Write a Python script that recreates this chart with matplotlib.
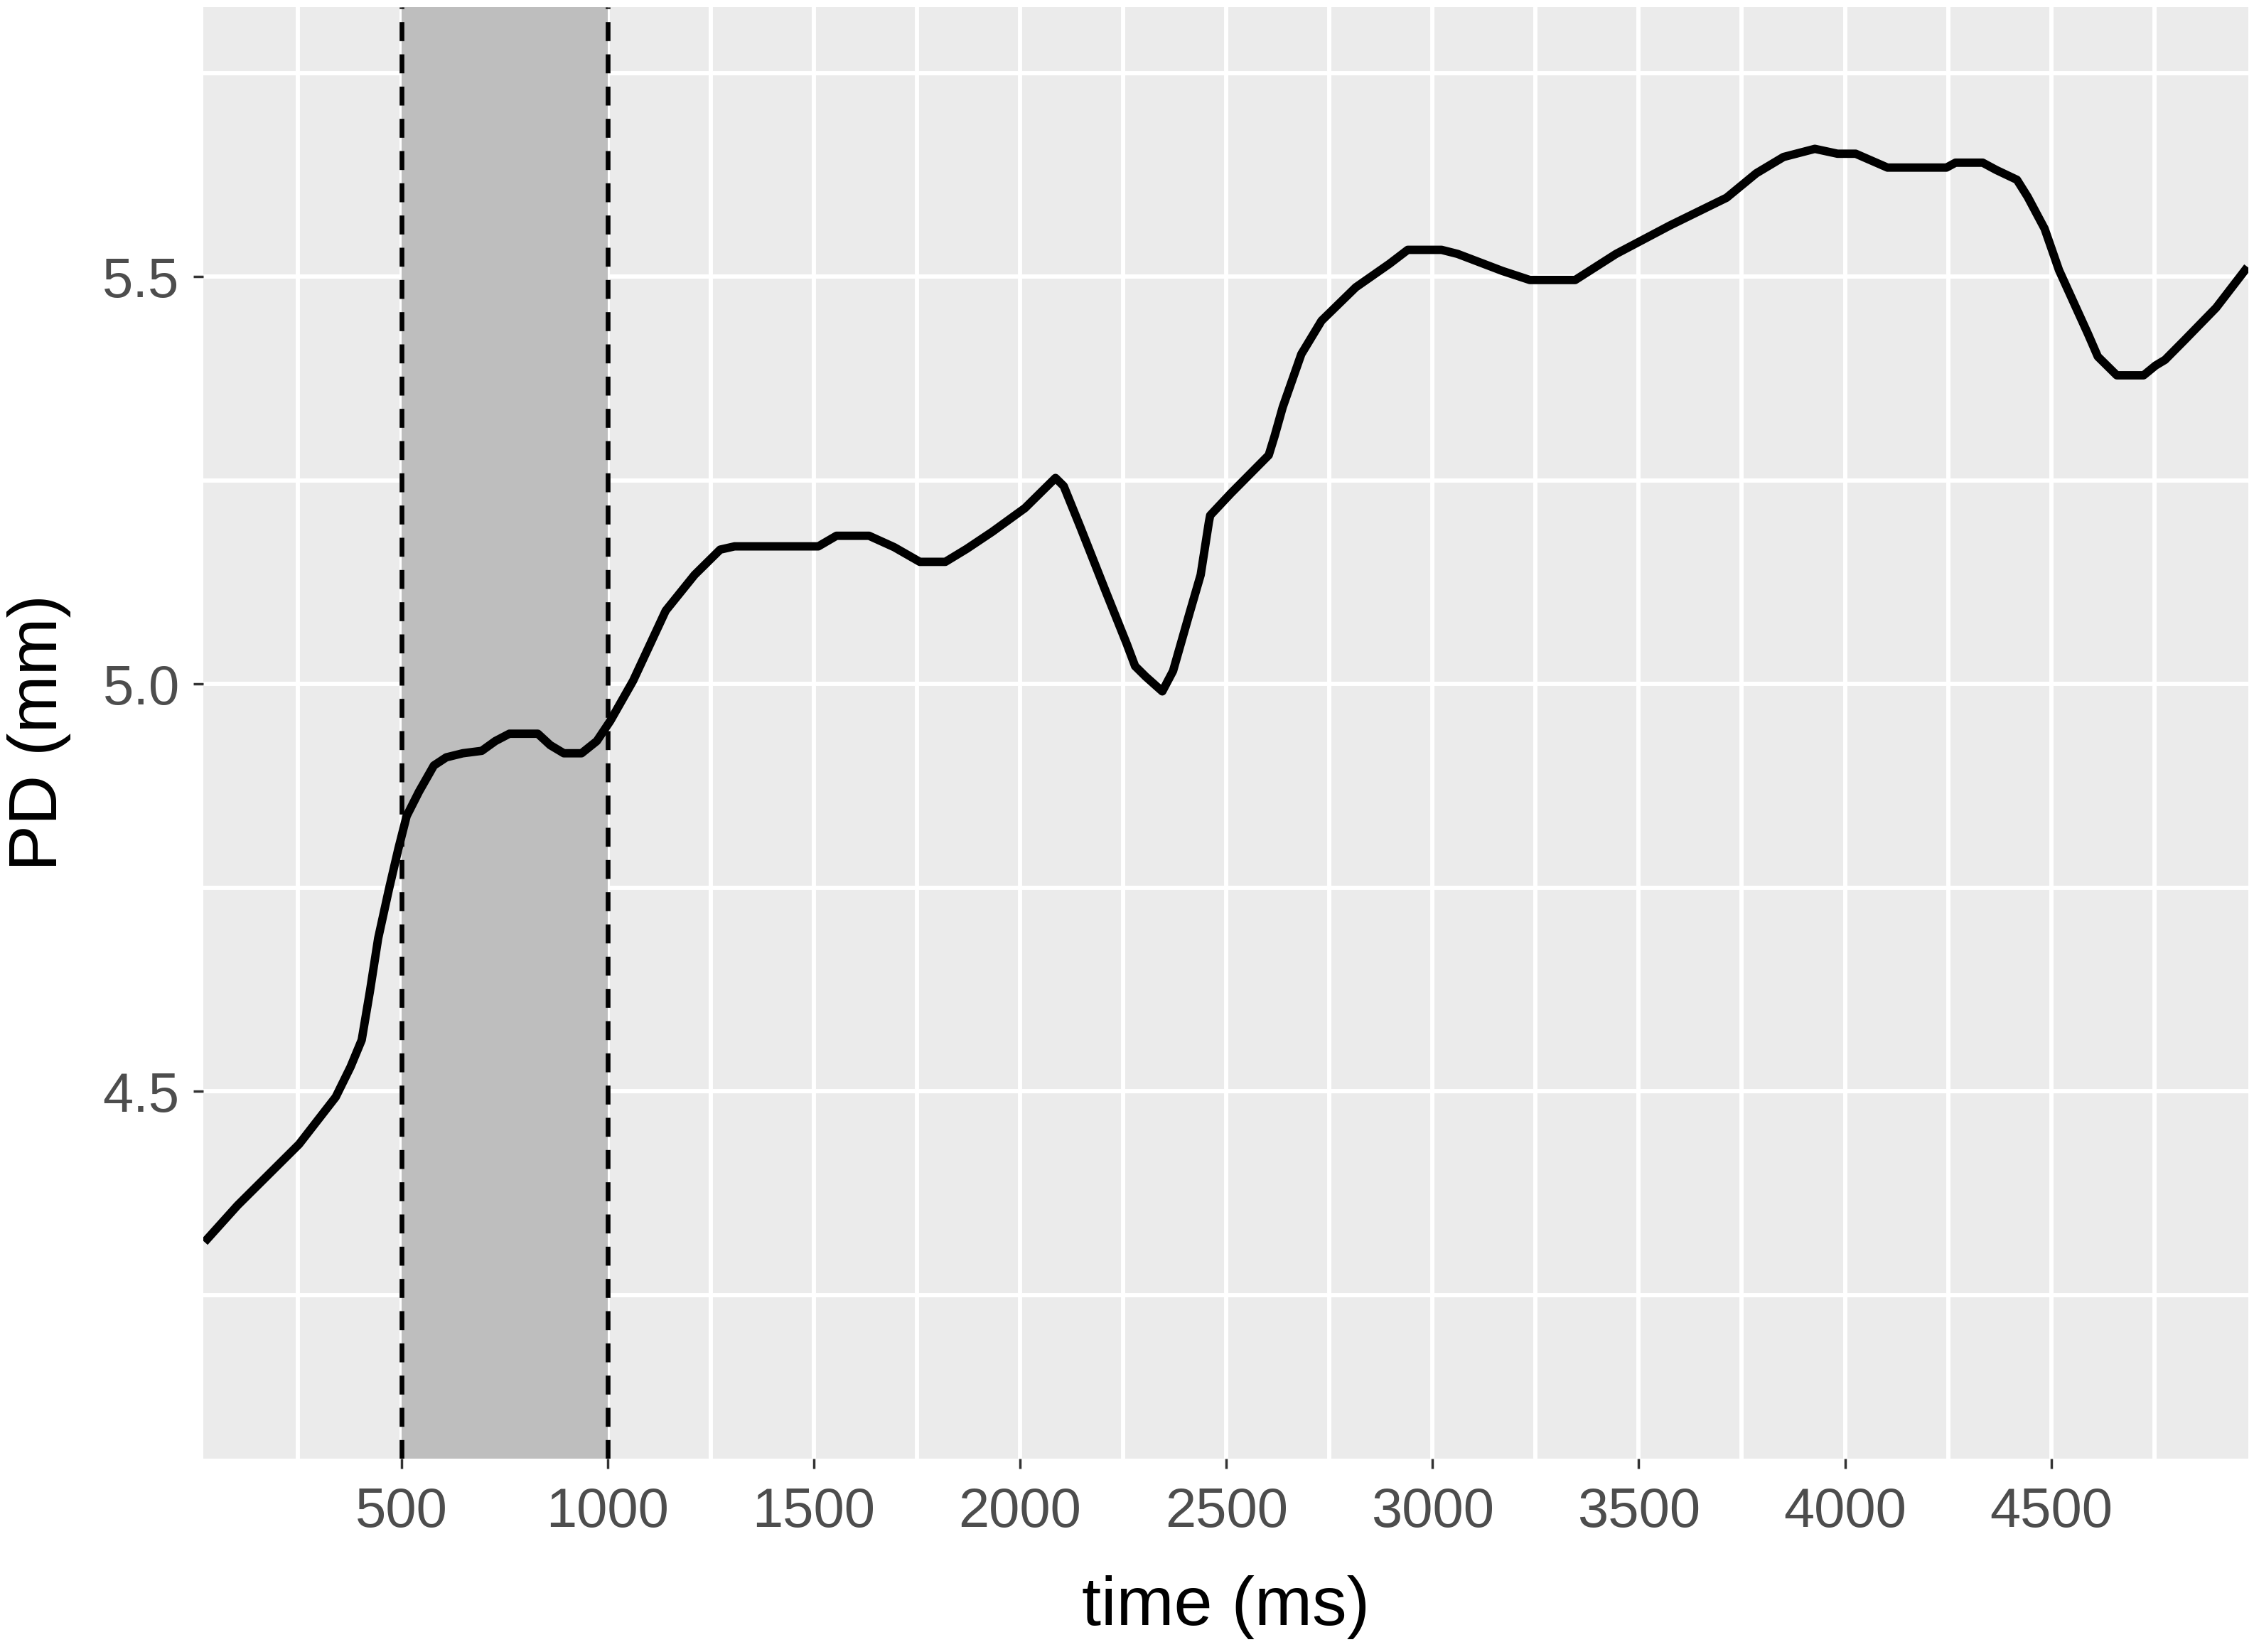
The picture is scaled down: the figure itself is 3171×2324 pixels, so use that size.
import matplotlib
matplotlib.use("Agg")
import matplotlib.pyplot as plt
from matplotlib.ticker import MultipleLocator, FixedLocator

# pupil diameter trace
time_ms = [
    23, 103, 252, 341, 377, 404, 424, 444, 470, 493, 513, 543, 579, 609,
    649, 695, 728, 762, 831, 861, 894, 937, 974, 1007, 1062, 1141, 1211,
    1273, 1308, 1511, 1555, 1634, 1695, 1757, 1819, 1871, 1933, 2012,
    2048, 2086, 2106, 2146, 2206, 2259, 2279, 2305, 2345, 2371, 2411,
    2438, 2458, 2461, 2511, 2603, 2617, 2637, 2682, 2731, 2814, 2896,
    2940, 3022, 3061, 3170, 3236, 3346, 3445, 3576, 3713, 3785, 3851,
    3927, 3982, 4026, 4103, 4246, 4268, 4334, 4367, 4417, 4443, 4484,
    4519, 4554, 4589, 4613, 4659, 4724, 4753, 4776, 4823, 4900, 4976,
]
pd_mm = [
    4.315, 4.360, 4.435, 4.493, 4.530, 4.563, 4.623, 4.688, 4.748, 4.798,
    4.838, 4.868, 4.900, 4.910, 4.915, 4.918, 4.930, 4.939, 4.939, 4.925,
    4.915, 4.915, 4.930, 4.955, 5.004, 5.090, 5.134, 5.165, 5.169, 5.169,
    5.182, 5.182, 5.168, 5.150, 5.150, 5.166, 5.187, 5.216, 5.234, 5.253,
    5.243, 5.193, 5.116, 5.049, 5.022, 5.009, 4.991, 5.016, 5.087, 5.134,
    5.199, 5.207, 5.234, 5.281, 5.304, 5.340, 5.405, 5.446, 5.487, 5.516,
    5.533, 5.533, 5.528, 5.507, 5.496, 5.496, 5.528, 5.563, 5.597, 5.627,
    5.647, 5.657, 5.651, 5.651, 5.634, 5.634, 5.640, 5.640, 5.631, 5.619,
    5.598, 5.559, 5.508, 5.469, 5.430, 5.402, 5.379, 5.379, 5.391, 5.398,
    5.422, 5.462, 5.512,
]

window = [500, 1000]
x_ticks = [500, 1000, 1500, 2000, 2500, 3000, 3500, 4000, 4500]
y_ticks = [4.5, 5.0, 5.5]
y_tick_labels = ["4.5", "5.0", "5.5"]

plt.rcParams["font.family"] = ["Liberation Sans", "DejaVu Sans"]

fig = plt.figure(figsize=(31.71, 23.24), dpi=100)
ax = fig.add_axes([0.0902, 0.1170, 0.9073, 0.8787])
ax.set_facecolor("#EBEBEB")

# shaded window with dashed borders
ax.axvspan(window[0], window[1], color="#BEBEBE", lw=0, zorder=1)
for xv in window:
    ax.axvline(xv, color="black", lw=4.8, ls=(0, (4.0, 2.8)), zorder=2)

ax.plot(time_ms, pd_mm, color="black", lw=8.5, solid_joinstyle="round",
        solid_capstyle="butt", zorder=3)

ax.set_xlim(20, 4978)
ax.set_ylim(4.049, 5.831)

ax.xaxis.set_major_locator(FixedLocator(x_ticks))
ax.xaxis.set_minor_locator(MultipleLocator(250))
ax.set_yticks(y_ticks)
ax.set_yticklabels(y_tick_labels)
ax.yaxis.set_minor_locator(FixedLocator([4.25, 4.75, 5.25, 5.75]))

ax.set_axisbelow(True)
ax.grid(which="major", color="white", lw=4.3)
ax.grid(which="minor", color="white", lw=4.3)
for s in ax.spines.values():
    s.set_visible(False)

ax.tick_params(which="major", direction="out", length=10, width=2.5,
               color="#333333", labelsize=56, labelcolor="#4D4D4D")
ax.tick_params(axis="x", which="major", pad=18)
ax.tick_params(axis="y", which="major", pad=14)
ax.tick_params(which="minor", length=0)

ax.set_xlabel("time (ms)", fontsize=70, color="black", va="center")
ax.xaxis.set_label_coords(0.5, -0.1024)
ax.set_ylabel("PD (mm)", fontsize=70, color="black", va="center")
ax.yaxis.set_label_coords(-0.0803, 0.5)

fig.savefig("out.png", dpi=100, facecolor="white")
plt.close(fig)
